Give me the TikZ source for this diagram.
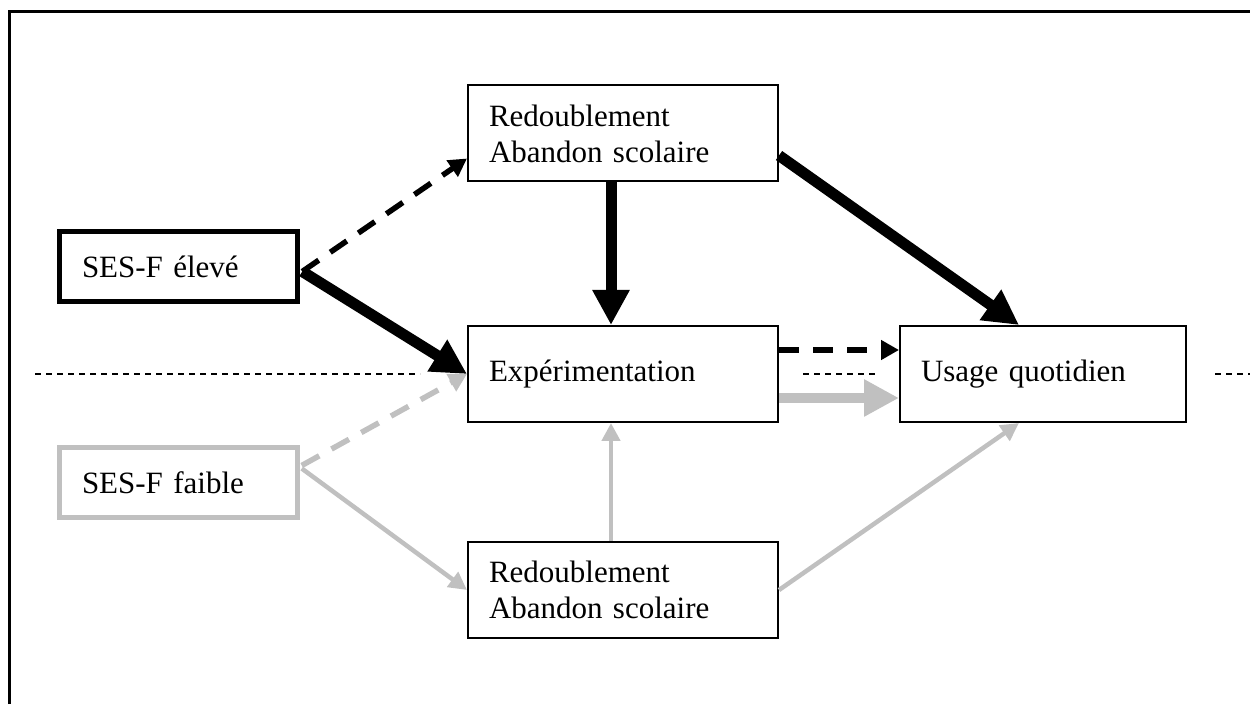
\documentclass[tikz,border=0pt]{standalone}
\usepackage{fontspec}
\setmainfont{Liberation Serif}
\usetikzlibrary{arrows.meta,calc}
\definecolor{sgray}{RGB}{192,192,192}
\begin{document}
\begin{tikzpicture}[x=1pt,y=1pt,
  box/.style={draw, line width=2pt, rectangle, align=left,
    font=\fontsize{31}{36}\selectfont, inner xsep=21pt, inner ysep=0pt,
    minimum height=96pt, text width=268pt},
  sesbox/.style={draw, rectangle, align=left,
    font=\fontsize{31}{36}\selectfont, inner xsep=22.5pt, inner ysep=0pt,
    minimum height=70pt, text width=193pt},
  blkthick/.style={line width=11pt, -{Triangle[length=35pt,width=35pt]}},
  blkdash/.style={line width=5.5pt, dash pattern=on 20pt off 14pt, -{Triangle[length=18pt,width=19pt]}},
  grythick/.style={sgray, line width=10pt, -{Triangle[length=35pt,width=35pt]}},
  grydash/.style={sgray, line width=5.5pt, dash pattern=on 20pt off 14pt, -{Triangle[length=18pt,width=19pt]}},
  grysolid/.style={sgray, line width=4.5pt, -{Triangle[length=18pt,width=18pt]}},
  sep/.style={line width=1.5pt, dash pattern=on 6pt off 5pt},
  frame/.style={line width=3pt}
]
\useasboundingbox (0,0) rectangle (1250,704);
% frame
\draw[frame] (9,0) -- (9,692) -- (1250,692);

% nodes
\node[box] (top) at (623,570.5) {Redoublement\\Abandon scolaire};
\node[box] (exp) at (623,330) {Expérimentation};
\node[box, text width=244pt] (usage) at (1043,330) {Usage quotidien};
\node[box] (bottom) at (623,114) {Redoublement\\Abandon scolaire};
\node[sesbox, line width=5.5pt] (seshigh) at (178.5,437.5) {SES-F élevé};
\node[sesbox, draw=sgray, line width=4.5pt] (seslow) at (178.5,221.5) {SES-F faible};

% separator line
\draw[sep] (35,330) -- ($(exp.west)+(-47,0)$);
\draw[sep] ($(exp.east)+(24,0)$) -- ($(usage.west)+(-24,0)$);
\draw[sep] ($(usage.east)+(28,0)$) -- (1250,330);

% black connectors
\draw[blkdash] ($(seshigh.east)+(2,-5)$) -- ($(top.south west)+(0,24)$);
\draw[blkthick] ($(seshigh.east)+(2,-5)$) -- (exp.west);
\draw[blkthick] ($(top.south)+(-12,0)$) -- ($(exp.north)+(-12,0)$);
\draw[blkthick] ($(top.east)+(0,-22)$) -- ($(usage.north)+(-24,0)$);
\draw[blkdash] ($(exp.east)+(0,24)$) -- ($(usage.west)+(0,24)$);

% gray connectors
\draw[grythick] ($(exp.east)+(0,-24)$) -- ($(usage.west)+(0,-24)$);
\draw[grydash] ($(seslow.east)+(2,17)$) -- (exp.west);
\draw[grysolid] ($(seslow.east)+(2,14)$) -- (bottom.west);
\draw[grysolid] ($(bottom.north)+(-12,0)$) -- ($(exp.south)+(-12,0)$);
\draw[grysolid] (bottom.east) -- ($(usage.south)+(-24,0)$);
\end{tikzpicture}
\end{document}
